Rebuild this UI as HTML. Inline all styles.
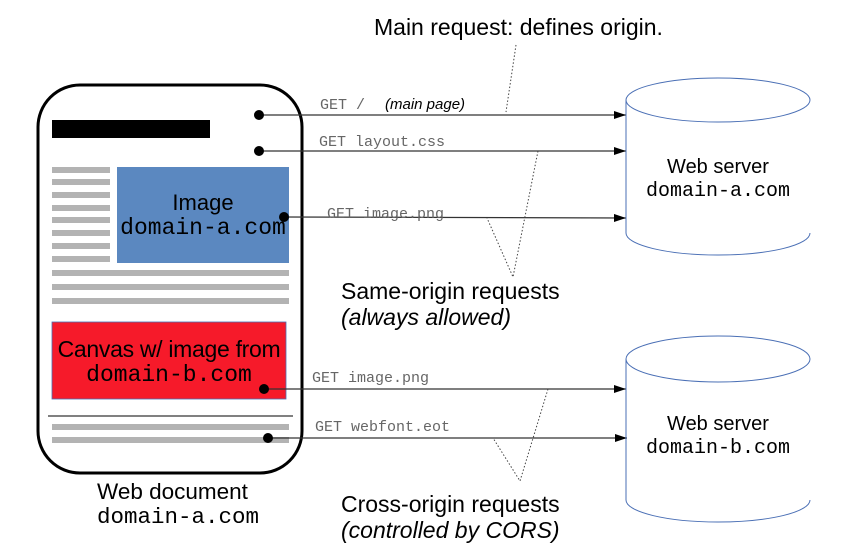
<!DOCTYPE html>
<html><head><meta charset="utf-8"><style>
html,body{margin:0;padding:0;background:#fff;width:847px;height:549px;overflow:hidden}
svg text{font-family:"Liberation Sans",sans-serif}
.m{font-family:"Liberation Mono",monospace}
</style></head><body>
<svg width="847" height="549" viewBox="0 0 847 549" xmlns="http://www.w3.org/2000/svg">
<defs><marker id="a" markerWidth="12" markerHeight="8" refX="12" refY="4" orient="auto" markerUnits="userSpaceOnUse"><path d="M0,0 L12,4 L0,8 z" fill="#000"/></marker></defs>
<rect x="38" y="85" width="264" height="388" rx="42" fill="#fff" stroke="#000" stroke-width="3"/>
<rect x="52" y="120" width="158" height="18" fill="#000"/>
<g fill="#b3b3b3">
<rect x="52" y="167" width="58" height="6"/><rect x="52" y="179" width="58" height="6"/>
<rect x="52" y="192" width="58" height="6"/><rect x="52" y="205" width="58" height="6"/>
<rect x="52" y="217" width="58" height="6"/><rect x="52" y="230" width="58" height="6"/>
<rect x="52" y="243" width="58" height="6"/><rect x="52" y="256" width="58" height="6"/>
<rect x="52" y="270" width="237" height="6"/><rect x="52" y="284" width="237" height="6"/>
<rect x="52" y="298" width="237" height="6"/>
<rect x="52" y="424" width="237" height="6"/><rect x="52" y="437" width="237" height="6"/>
</g>
<rect x="117" y="167" width="172" height="96" fill="#5b88c0"/>
<text x="203" y="210" font-size="22" text-anchor="middle">Image</text>
<text x="203" y="234" font-size="23" text-anchor="middle" class="m">domain-a.com</text>
<rect x="52" y="322" width="234" height="77" fill="#f61a2a" stroke="#4a6fb5" stroke-width="0.8"/>
<text x="169" y="357" font-size="23" text-anchor="middle" letter-spacing="-0.3">Canvas w/ image from</text>
<text x="169" y="381" font-size="23" text-anchor="middle" class="m">domain-b.com</text>
<line x1="48" y1="416" x2="293" y2="416" stroke="#000" stroke-width="1"/>
<g stroke="#333" stroke-width="1.3" marker-end="url(#a)">
<line x1="259" y1="115" x2="626" y2="115"/>
<line x1="259" y1="151" x2="626" y2="151"/>
<line x1="284" y1="217" x2="626" y2="218"/>
<line x1="264" y1="389" x2="626" y2="389"/>
<line x1="268" y1="438" x2="627" y2="438"/>
</g>
<g fill="#000"><circle cx="259" cy="115" r="5"/><circle cx="259" cy="151" r="5"/><circle cx="284" cy="217" r="5"/><circle cx="264" cy="389" r="5"/><circle cx="268" cy="438" r="5"/></g>
<g font-size="15" fill="#666">
<text x="320" y="109" class="m">GET /</text>
<text x="319" y="146" class="m">GET layout.css</text>
<text x="327" y="218" class="m">GET image.png</text>
<text x="312" y="382" class="m">GET image.png</text>
<text x="315" y="431" class="m">GET webfont.eot</text>
</g>
<text x="385" y="109" font-size="15" font-style="italic">(main page)</text>
<g stroke="#444" stroke-width="1" stroke-dasharray="1.5,2" fill="none">
<path d="M516,45 L506,112"/>
<path d="M538,151 L513,277 L487,218"/>
<path d="M548,389 L520,481 L493,438"/>
</g>
<g fill="none" stroke="#4a6fb5" stroke-width="1">
<ellipse cx="718" cy="100" rx="92" ry="22"/>
<path d="M626,100 L626,233 A92,22 0 0 0 810,233"/>
<ellipse cx="718" cy="359" rx="92" ry="23"/>
<path d="M626,359 L626,500 A92,22 0 0 0 810,500"/>
</g>
<rect x="811" y="70" width="40" height="470" fill="#fff"/>
<text x="718" y="173" font-size="20" text-anchor="middle">Web server</text>
<text x="718" y="196" font-size="20" text-anchor="middle" class="m">domain-a.com</text>
<text x="718" y="430" font-size="20" text-anchor="middle">Web server</text>
<text x="718" y="453" font-size="20" text-anchor="middle" class="m">domain-b.com</text>
<text x="374" y="35" font-size="23">Main request: defines origin.</text>
<text x="341" y="299" font-size="23">Same-origin requests</text>
<text x="341" y="325" font-size="23" font-style="italic">(always allowed)</text>
<text x="341" y="512" font-size="23">Cross-origin requests</text>
<text x="341" y="538" font-size="23" font-style="italic">(controlled by CORS)</text>
<text x="97" y="499" font-size="22.5">Web document</text>
<text x="97" y="523" font-size="22.5" class="m">domain-a.com</text>
</svg>
</body></html>
